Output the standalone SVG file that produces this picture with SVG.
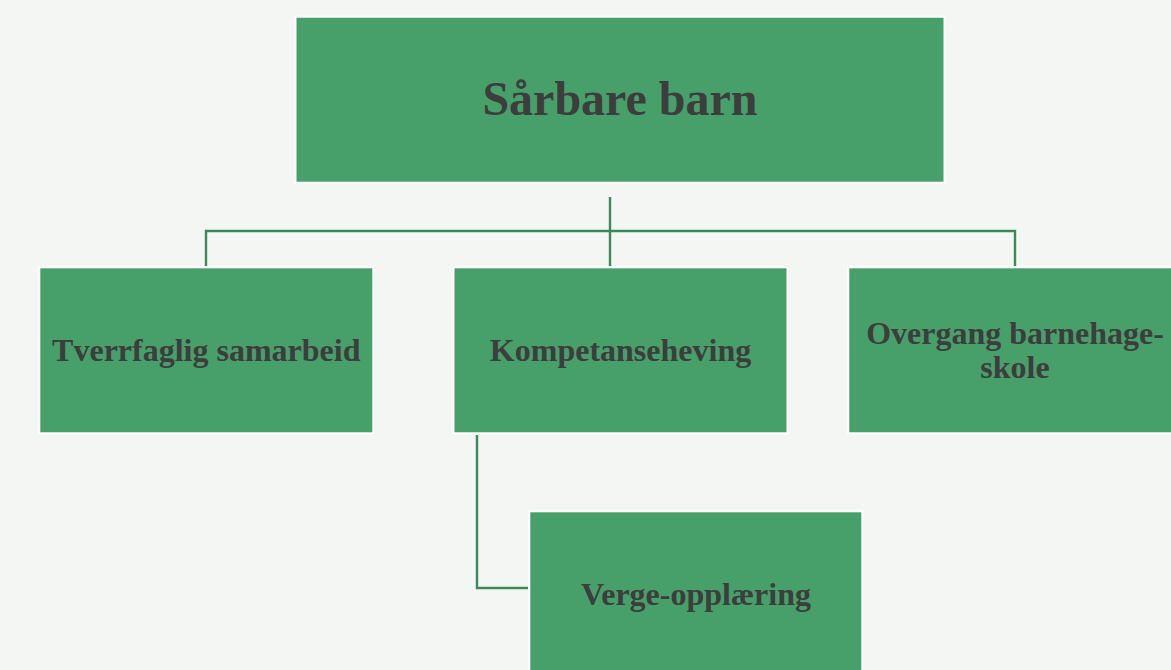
<svg xmlns="http://www.w3.org/2000/svg" width="1171" height="670" viewBox="0 0 1171 670">
<style>
.box{fill:#47a069;stroke:#ffffff;stroke-width:2}
.t{font-family:"Liberation Serif","Times New Roman",serif;font-weight:bold;fill:#3d3d3d;text-anchor:middle}
.big{font-size:48px}
.mid{font-size:32px}
.con{fill:none;stroke:#3c8a58;stroke-width:2.4}
</style>
<rect width="1171" height="670" fill="#f4f6f3"/>
<g id="connectors">
<path class="con" d="M610,197 V266 M206,266 V231 H1015 V266 M477,435 V588 H528"/>
</g>
<g id="n-root">
<rect class="box" x="295.5" y="16.7" width="649" height="166"/>
<text class="t big" x="620" y="115">Sårbare barn</text>
</g>
<g id="n-tverr">
<rect class="box" x="39.3" y="267.3" width="334" height="166"/>
<text class="t mid" x="206.3" y="361">Tverrfaglig samarbeid</text>
</g>
<g id="n-komp">
<rect class="box" x="453.5" y="267.3" width="334" height="166"/>
<text class="t mid" x="620.5" y="361">Kompetanseheving</text>
</g>
<g id="n-overgang">
<rect class="box" x="848.3" y="267.3" width="334" height="166"/>
<text class="t mid" x="1015" y="344">Overgang barnehage-</text>
<text class="t mid" x="1015" y="378">skole</text>
</g>
<g id="n-verge">
<rect class="box" x="529.3" y="511.3" width="333" height="166"/>
<text class="t mid" x="696" y="605">Verge-opplæring</text>
</g>
</svg>
